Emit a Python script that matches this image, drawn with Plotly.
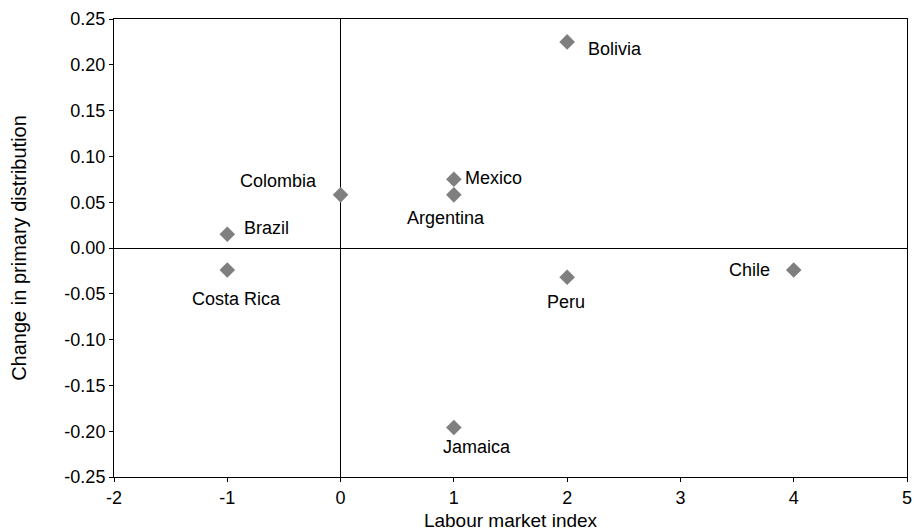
import plotly.graph_objects as go

countries = ["Bolivia", "Colombia", "Mexico", "Argentina", "Brazil",
             "Costa Rica", "Peru", "Chile", "Jamaica"]
labour_index = [2, 0, 1, 1, -1, -1, 2, 4, 1]
primary_change = [0.225, 0.058, 0.075, 0.058, 0.015, -0.024, -0.032, -0.024, -0.196]

x_ticks = [-2, -1, 0, 1, 2, 3, 4, 5]
y_ticks = [-0.25, -0.20, -0.15, -0.10, -0.05, 0.0, 0.05, 0.10, 0.15, 0.20, 0.25]

# label offsets in pixels (xshift, yshift, xanchor)
offsets = {
    "Bolivia": (19, -7, "left"),
    "Colombia": (-22, 14, "right"),
    "Mexico": (9, 1, "left"),
    "Argentina": (-8, -23, "center"),
    "Brazil": (15, 6, "left"),
    "Costa Rica": (9, -29, "center"),
    "Peru": (-1, -25, "center"),
    "Chile": (-22, 0, "right"),
    "Jamaica": (23, -19, "center"),
}

fig = go.Figure()
fig.add_trace(go.Scatter(
    x=labour_index, y=primary_change, mode="markers",
    marker=dict(symbol="diamond", size=12, color="#7f7f7f"),
    showlegend=False,
))

for c, xv, yv in zip(countries, labour_index, primary_change):
    xs, ys, xa = offsets[c]
    fig.add_annotation(x=xv, y=yv, text=c, showarrow=False,
                       xshift=xs, yshift=ys, xanchor=xa, yanchor="middle",
                       font=dict(size=18, color="black"))

axis_common = dict(showgrid=False, zeroline=True, zerolinecolor="black", zerolinewidth=1,
                   showline=True, linecolor="black", linewidth=1, mirror=True,
                   ticks="outside", ticklen=4, tickcolor="black", automargin=False,
                   tickfont=dict(size=18, color="black"))

fig.update_xaxes(range=[-2, 5], tickmode="array", tickvals=x_ticks,
                 ticktext=[str(v) for v in x_ticks],
                 title=dict(text="Labour market index", font=dict(size=19, color="black"), standoff=7),
                 **axis_common)
fig.update_yaxes(range=[-0.25, 0.25], tickmode="array", tickvals=y_ticks,
                 ticktext=[f"{v:.2f}" for v in y_ticks],
                 title=dict(text="Change in primary distribution", font=dict(size=20, color="black"), standoff=32),
                 **axis_common)

fig.update_layout(
    width=914, height=531,
    margin=dict(l=114, r=7, t=19, b=54),
    plot_bgcolor="white", paper_bgcolor="white",
    font=dict(family="Liberation Sans, Arial, sans-serif", color="black"),
)

fig.write_html("out.html", config={"displayModeBar": False},
               post_script="document.body.style.margin='0';")
